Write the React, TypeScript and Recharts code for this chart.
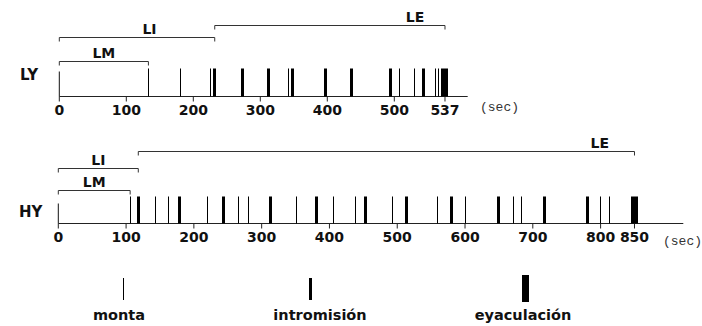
import { ComposedChart, Scatter, XAxis, YAxis, ReferenceLine } from "recharts";

// LY session (sec)
const LY_TICKS = [0, 100, 200, 300, 400, 500, 537];
const LY_MONTA = [133, 181, 226, 342, 504, 515, 530, 532];
const LY_INTRO = [232, 274, 312, 348, 398, 436, 495, 521];
const LY_EYAC = [537];
const LY_BRACKETS = [
  { name: "LM", from: 0, to: 133 },
  { name: "LI", from: 0, to: 232 },
  { name: "LE", from: 232, to: 537 },
];

// HY session (sec)
const HY_TICKS = [0, 100, 200, 300, 400, 500, 600, 700, 800, 850];
const HY_MONTA = [106, 143, 162, 220, 266, 281, 352, 406, 438, 493, 560, 601, 672, 684, 800, 813];
const HY_INTRO = [118, 179, 244, 313, 381, 453, 514, 580, 650, 717, 781];
const HY_EYAC = [850];
const HY_BRACKETS = [
  { name: "LM", from: 0, to: 106 },
  { name: "LI", from: 0, to: 118 },
  { name: "LE", from: 118, to: 850 },
];

const KINDS = [
  { label: "monta", width: 1 },
  { label: "intromisión", width: 3 },
  { label: "eyaculación", width: 7 },
];

// layout
const W = 702;
const PLOT_H = 96;
const AXIS_Y = PLOT_H + 0.5;
const FONT = "'DejaVu Sans', Verdana, sans-serif";
const INK = "#111";

// the LY axis in the figure is stretched between 500 and 537
function stretchedScale(knots: number[], stops: number[]) {
  let dom = [knots[0], knots[knots.length - 1]];
  let rng = [0, 1];
  const s: any = (v: number) => {
    let i = 1;
    while (i < knots.length - 1 && v > knots[i]) i++;
    const f = stops[i - 1] + ((v - knots[i - 1]) / (knots[i] - knots[i - 1])) * (stops[i] - stops[i - 1]);
    return rng[0] + f * (rng[1] - rng[0]);
  };
  s.domain = (d?: number[]) => {
    if (!d) return dom;
    dom = d;
    return s;
  };
  s.range = (r?: number[]) => {
    if (!r) return rng;
    rng = r;
    return s;
  };
  s.copy = () => stretchedScale(knots, stops).domain(dom).range(rng);
  s.ticks = () => knots;
  return s;
}

const eventShape = (w: number) => (p: any) => {
  if (p.cx == null || p.cy == null) return <g />;
  const x = Math.round(p.cx - w / 2);
  return <rect x={x} y={p.cy} width={w} height={AXIS_Y - p.cy} fill="#000" />;
};

const bracketShape = (name: string, frac: number) => (p: any) => {
  const { x1, y1, x2 } = p;
  if (x1 == null) return <g />;
  return (
    <g>
      <path d={`M${x1},${y1 + 4}V${y1}H${x2}V${y1 + 4}`} fill="none" stroke="#333" strokeWidth={1} />
      <text x={x1 + frac * (x2 - x1)} y={y1 - 4} textAnchor="middle" fontSize={14} fontWeight="bold" fill={INK} fontFamily={FONT}>
        {name}
      </text>
    </g>
  );
};

interface RowProps {
  top: number;
  left: number;
  right: number;
  domain: [number, number];
  scale?: any;
  ticks: number[];
  monta: number[];
  intro: number[];
  eyac: number[];
  brackets: { name: string; from: number; to: number }[];
  levels: Record<string, { y: number; frac: number }>;
  barH: number;
  startH: number;
}

function Row(props: RowProps) {
  const { top, left, right, domain, scale, ticks, monta, intro, eyac, brackets, levels, barH, startH } = props;
  const series = [monta, intro, eyac];
  return (
    <div style={{ position: "absolute", left: 0, top }}>
      <ComposedChart width={W} height={PLOT_H + 31} margin={{ top: 0.5, left, right, bottom: 0.5 }}>
        <XAxis
          type="number"
          dataKey="t"
          domain={domain}
          scale={scale ?? "linear"}
          ticks={ticks}
          interval={0}
          allowDataOverflow
          height={30}
          tickSize={5}
          tickMargin={4}
          axisLine={{ stroke: "#222" }}
          tickLine={{ stroke: "#222" }}
          tick={{ fill: INK, fontSize: 14, fontWeight: "bold", fontFamily: FONT }}
        />
        <YAxis type="number" dataKey="h" domain={[0, PLOT_H]} hide />
        <ReferenceLine segment={[{ x: 0, y: 0 }, { x: 0, y: startH }]} stroke={INK} />
        {brackets.map((b) => (
          <ReferenceLine
            key={b.name}
            segment={[{ x: b.from, y: levels[b.name].y }, { x: b.to, y: levels[b.name].y }]}
            shape={bracketShape(b.name, levels[b.name].frac)}
          />
        ))}
        {series.map((times, i) => (
          <Scatter
            key={KINDS[i].label}
            name={KINDS[i].label}
            data={times.map((t) => ({ t, h: barH }))}
            shape={eventShape(KINDS[i].width)}
            fill="#000"
            isAnimationActive={false}
          />
        ))}
      </ComposedChart>
    </div>
  );
}

const LEGEND_POS = [
  { mark: 123, text: 119 },
  { mark: 310, text: 320 },
  { mark: 525, text: 523 },
];

export default function App() {
  const textStyle = { position: "absolute" as const, fontFamily: FONT, color: INK, whiteSpace: "nowrap" as const };
  return (
    <div style={{ position: "fixed", left: 0, top: 0, width: W, height: 326, background: "#fff", overflow: "hidden" }}>
      <Row
        top={0}
        left={59.3}
        right={W - 467.7}
        domain={[0, 560]}
        scale={stretchedScale([0, 500, 537, 560], [0, 0.8203, 0.9444, 1])}
        ticks={LY_TICKS}
        monta={LY_MONTA}
        intro={LY_INTRO}
        eyac={LY_EYAC}
        brackets={LY_BRACKETS}
        levels={{ LM: { y: 35, frac: 0.5 }, LI: { y: 59, frac: 0.58 }, LE: { y: 71, frac: 0.87 } }}
        barH={28}
        startH={25}
      />
      <Row
        top={127}
        left={58.3}
        right={W - 683.3}
        domain={[0, 922]}
        ticks={HY_TICKS}
        monta={HY_MONTA}
        intro={HY_INTRO}
        eyac={HY_EYAC}
        brackets={HY_BRACKETS}
        levels={{ LM: { y: 33, frac: 0.5 }, LI: { y: 55, frac: 0.5 }, LE: { y: 72, frac: 0.93 } }}
        barH={27}
        startH={20}
      />

      <div style={{ ...textStyle, left: 20, top: 66, fontSize: 15, fontWeight: "bold" }}>LY</div>
      <div style={{ ...textStyle, left: 19, top: 203, fontSize: 15, fontWeight: "bold" }}>HY</div>
      <div style={{ ...textStyle, left: 480, top: 100, fontSize: 13, fontFamily: "'Liberation Mono', monospace", color: "#333" }}>(sec)</div>
      <div style={{ ...textStyle, left: 663, top: 234, fontSize: 13, fontFamily: "'Liberation Mono', monospace", color: "#333" }}>(sec)</div>

      {KINDS.map((k, i) => (
        <div key={k.label}>
          <div
            style={{
              position: "absolute",
              left: Math.round(LEGEND_POS[i].mark - k.width / 2),
              top: i === 2 ? 275 : 278,
              width: k.width,
              height: i === 2 ? 27 : 22,
              background: "#000",
            }}
          />
          <div
            style={{
              ...textStyle,
              left: LEGEND_POS[i].text - 60,
              width: 120,
              textAlign: "center",
              top: 307,
              fontSize: 14.5,
              fontWeight: "bold",
            }}
          >
            {k.label}
          </div>
        </div>
      ))}
    </div>
  );
}
